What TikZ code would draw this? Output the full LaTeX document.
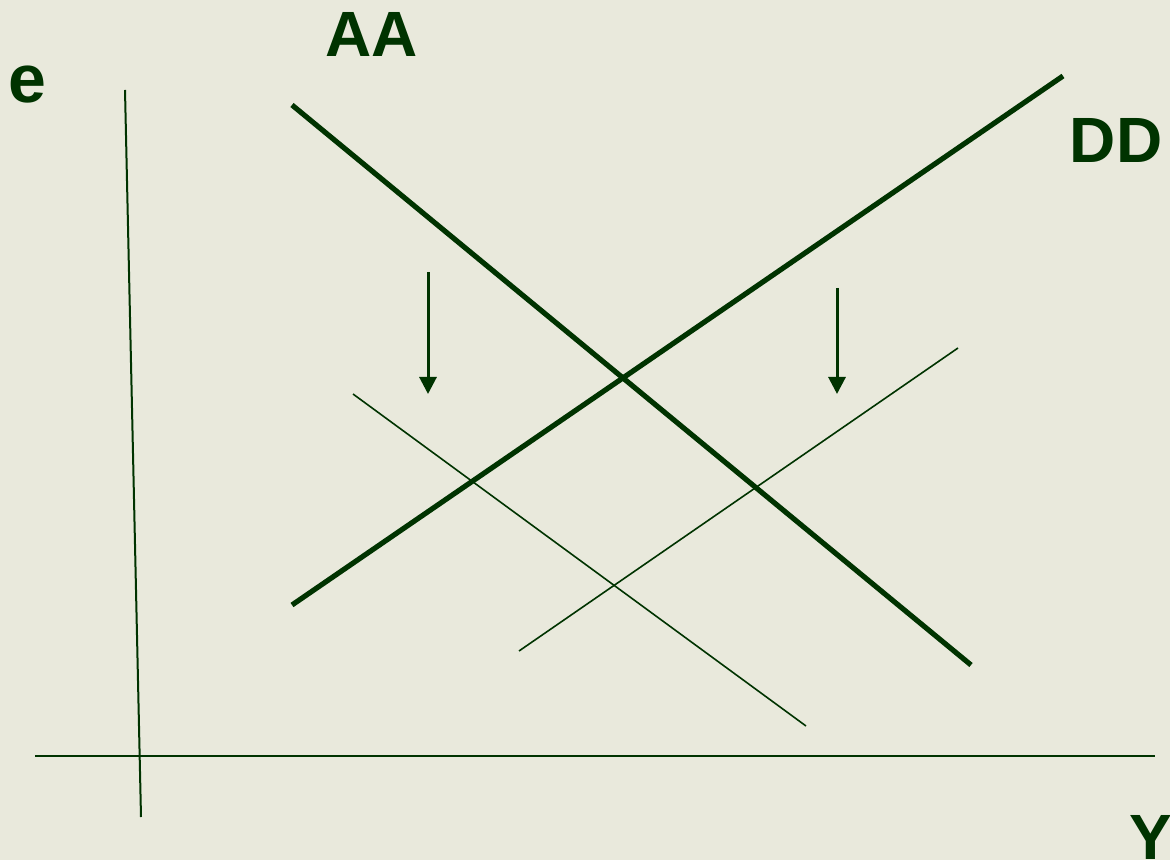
\documentclass[tikz,border=0pt]{standalone}
\usepackage{fontspec}
\setmainfont{Liberation Sans}
\usetikzlibrary{arrows.meta,positioning,calc}

\definecolor{bgcol}{RGB}{233,233,220}
\definecolor{curvegreen}{RGB}{0,51,0}

\begin{document}
\begin{tikzpicture}[
    x=0.5pt, y=-0.5pt,
    axis/.style={draw=curvegreen, line width=1pt},
    schedule/.style={draw=curvegreen, line width=2.6pt},
    shifted/.style={draw=curvegreen, line width=0.8pt},
    shiftarr/.style={-{Triangle[length=8.5pt, width=8.5pt]}, draw=curvegreen,
                  fill=curvegreen, line width=1.5pt},
    lbl/.style={text=curvegreen, font=\fontsize{32}{36}\selectfont\bfseries,
                inner sep=0pt, anchor=base},
]
\fill[bgcol] (0,0) rectangle (1170,860);
\useasboundingbox (0,0) rectangle (1170,860);

% --- axes ---
\coordinate (ytop) at (125,90);
\coordinate (ybot) at (141,817);
\coordinate (xleft) at (35,756);
\coordinate (xright) at (1155,756);
\draw[axis] (ytop) -- (ybot);
\draw[axis] (xleft) -- (xright);
\node[lbl, font=\fontsize{34}{38}\selectfont\bfseries] (elabel) at (27,103) {e};
\node[lbl] (ylabel) at (1151,859) {Y};

% --- AA and DD schedules ---
\coordinate (aa1) at (292,105);
\coordinate (aa2) at (971,665);
\coordinate (dd1) at (292,605);
\coordinate (dd2) at (1063,76);
\draw[schedule] (aa1) -- (aa2);
\draw[schedule] (dd1) -- (dd2);
\node[lbl] (aalabel) at (372,57) {AA};
\node[lbl] (ddlabel) at (1116,163) {DD};

% --- shifted schedules ---
\coordinate (aan1) at (353,394);
\coordinate (aan2) at (806,726);
\coordinate (ddn1) at (519,651);
\coordinate (ddn2) at (958,348);
\draw[shifted] (aan1) -- (aan2);
\draw[shifted] (ddn1) -- (ddn2);

% --- shift arrows ---
\coordinate (sa1) at (428,272);
\coordinate (sa2) at (428,394);
\coordinate (sd1) at (837,288);
\coordinate (sd2) at (837,394);
\draw[shiftarr] (sa1) -- (sa2);
\draw[shiftarr] (sd1) -- (sd2);

\end{tikzpicture}
\end{document}
